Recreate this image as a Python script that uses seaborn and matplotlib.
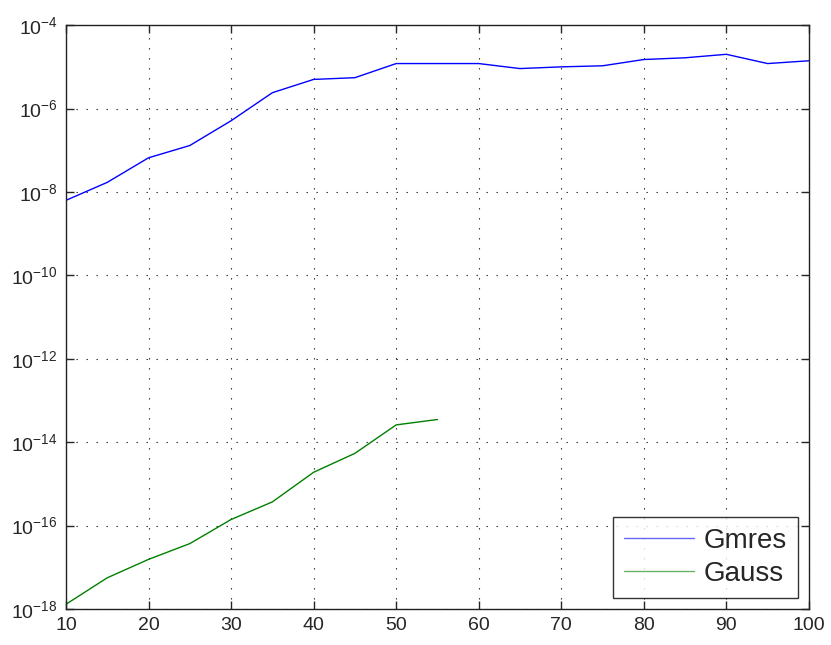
import numpy as np
import pandas as pd
import matplotlib
matplotlib.use('Agg')
import matplotlib.pyplot as plt
import seaborn as sns

# values
n_gmres = [10, 15, 20, 25, 30, 35, 40, 45, 50, 55, 60, 65, 70, 75, 80, 85, 90, 95, 100]
err_gmres = [6.3e-9, 1.7e-8, 6.6e-8, 1.3e-7, 5.1e-7, 2.4e-6, 5.0e-6, 5.5e-6, 1.2e-5, 1.2e-5,
             1.2e-5, 9.1e-6, 1.0e-5, 1.06e-5, 1.5e-5, 1.65e-5, 2.0e-5, 1.2e-5, 1.4e-5]
n_gauss = [10, 15, 20, 25, 30, 35, 40, 45, 50, 55]
err_gauss = [1.3e-18, 5.6e-18, 1.55e-17, 3.7e-17, 1.4e-16, 3.7e-16, 1.9e-15, 5.4e-15, 2.6e-14, 3.5e-14]

df = pd.concat([
    pd.DataFrame({'n': n_gmres, 'err': err_gmres, 'method': 'Gmres'}),
    pd.DataFrame({'n': n_gauss, 'err': err_gauss, 'method': 'Gauss'}),
])

sns.set_style('ticks')
plt.rcParams['font.family'] = ['Liberation Sans', 'DejaVu Sans']
plt.rcParams['mathtext.fontset'] = 'custom'
plt.rcParams['mathtext.rm'] = 'Liberation Sans'
plt.rcParams['mathtext.it'] = 'Liberation Sans'
plt.rcParams['mathtext.default'] = 'regular'

fig = plt.figure(figsize=(8.31, 6.45), dpi=100)
ax = fig.add_axes([0.0794, 0.0558, 0.894, 0.9052])

sns.lineplot(data=df, x='n', y='err', hue='method', ax=ax,
             palette={'Gmres': '#0000ff', 'Gauss': '#008000'}, linewidth=1.0)

ax.set_yscale('log')
ax.set_xlim(10, 100)
ax.set_ylim(1e-18, 1e-4)
ax.set_xticks(np.arange(10, 101, 10))
ax.set_yticks([10.0 ** k for k in range(-18, -3, 2)])
ax.minorticks_off()
ax.set_xlabel('')
ax.set_ylabel('')
ax.tick_params(direction='in', top=True, right=True, labelsize=14, length=6, width=1, pad=6)
ax.grid(True, linestyle=(0, (1.2, 7.8)), color='#222222', linewidth=0.8)
for s in ax.spines.values():
    s.set_linewidth(1.0)
    s.set_color('#222222')

leg = ax.legend(loc='lower right', fontsize=20, frameon=True, fancybox=False,
                edgecolor='black', handlelength=2.5, handletextpad=0.35,
                labelspacing=0.25, borderpad=0.4, borderaxespad=0.4)
leg.get_frame().set_linewidth(1.0)
for h in leg.get_lines():
    h.set_alpha(0.6)

fig.savefig('out.png', dpi=100)
